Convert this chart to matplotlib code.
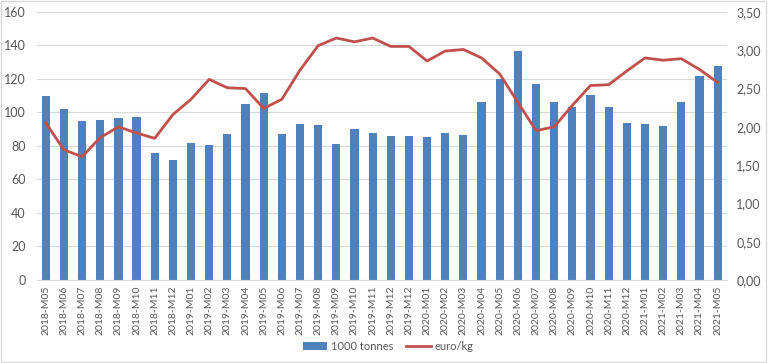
import matplotlib.pyplot as plt
from matplotlib.patches import Rectangle
from matplotlib.ticker import FuncFormatter

plt.rcParams['font.family'] = ['Lato', 'DejaVu Sans']

months = ["2018-M05", "2018-M06", "2018-M07", "2018-M08", "2018-M09", "2018-M10",
          "2018-M11", "2018-M12", "2019-M01", "2019-M02", "2019-M03", "2019-M04",
          "2019-M05", "2019-M06", "2019-M07", "2019-M08", "2019-M09", "2019-M10",
          "2019-M11", "2019-M12", "2019-M12", "2020-M01", "2020-M02", "2020-M03",
          "2020-M04", "2020-M05", "2020-M06", "2020-M07", "2020-M08", "2020-M09",
          "2020-M10", "2020-M11", "2020-M12", "2021-M01", "2021-M02", "2021-M03",
          "2021-M04", "2021-M05"]
tonnes = [109.6, 102.2, 94.8, 95.6, 96.6, 97.2, 75.9, 71.5, 81.9, 80.4, 87.3, 105.0,
          111.4, 86.9, 93.3, 92.7, 81.0, 90.1, 87.5, 85.8, 85.8, 85.2, 87.5, 86.6,
          106.0, 120.2, 136.9, 117.0, 106.0, 103.0, 110.6, 103.2, 94.0, 93.4, 91.9,
          106.0, 121.9, 127.7]
price = [2.05, 1.70, 1.61, 1.86, 2.00, 1.92, 1.85, 2.16, 2.36, 2.62, 2.51, 2.50,
         2.24, 2.36, 2.74, 3.06, 3.16, 3.11, 3.16, 3.05, 3.05, 2.86, 2.99, 3.01,
         2.90, 2.69, 2.32, 1.95, 2.00, 2.28, 2.54, 2.55, 2.73, 2.90, 2.87, 2.89,
         2.75, 2.58]

grey = "#595959"
x = range(len(months))

fig = plt.figure(figsize=(7.68, 3.63), dpi=100)
fig.patches.append(Rectangle((0.001, 0.002), 0.997, 0.995, transform=fig.transFigure,
                             fill=False, edgecolor="#d9d9d9", linewidth=1))
ax = fig.add_axes([0.0478, 0.2287, 0.8984, 0.7383])
bars = ax.bar(x, tonnes, width=0.45, color="#4f81bd", label="1000 tonnes", zorder=2)
ax.set_ylim(0, 160)
ax.set_yticks(range(0, 161, 20))
ax.set_xlim(-0.5, len(months) - 0.5)
ax.set_xticks(list(x))
ax.set_xticklabels(months, rotation=90, fontsize=7.5, color=grey)
ax.grid(axis="y", color="#d9d9d9", linewidth=0.8, zorder=0)
ax.tick_params(axis="y", length=0, labelsize=9, labelcolor=grey, pad=8)
ax.tick_params(axis="x", length=0, pad=4)
for s in ["top", "right", "left"]:
    ax.spines[s].set_visible(False)
ax.spines["bottom"].set_color("#d9d9d9")

ax2 = ax.twinx()
line, = ax2.plot(x, price, color="#c0504d", linewidth=2, label="euro/kg")
ax2.set_ylim(0, 3.5)
ax2.set_yticks([i * 0.5 for i in range(8)])
ax2.yaxis.set_major_formatter(FuncFormatter(lambda v, p: f"{v:.2f}".replace(".", ",")))
ax2.tick_params(axis="y", length=0, labelsize=9, labelcolor=grey, pad=7)
for s in ax2.spines.values():
    s.set_visible(False)

fig.legend([bars, line], ["1000 tonnes", "euro/kg"], loc="center", ncol=2,
           bbox_to_anchor=(0.505, 0.045), frameon=False, fontsize=8,
           labelcolor=grey, handlelength=2.2, handletextpad=0.3, columnspacing=1.2)

fig.savefig("out.png", dpi=100)
